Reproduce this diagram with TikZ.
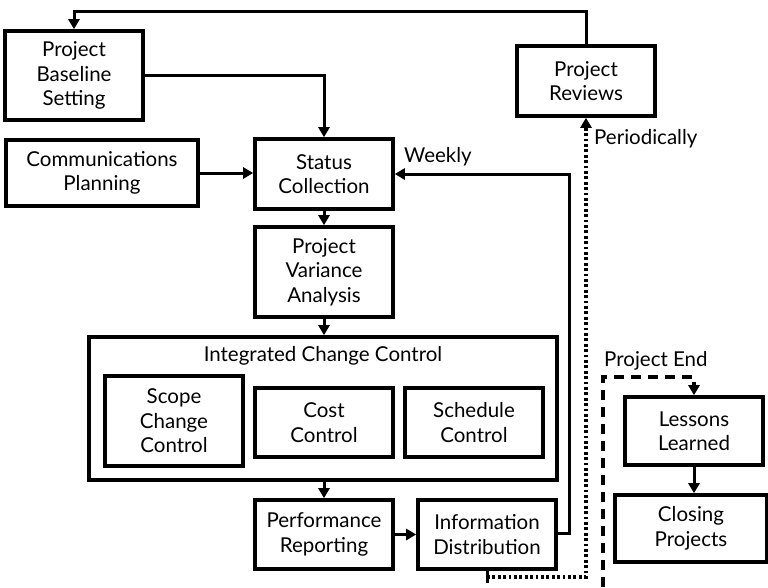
\documentclass[tikz,border=0pt]{standalone}
\usepackage{fontspec}
\setmainfont{Lato}
\usetikzlibrary{arrows.meta}
\begin{document}
\begin{tikzpicture}[x=1pt,y=-1pt,
  box/.style={draw, line width=3.6pt, rectangle, inner sep=0pt, align=center,
    font=\fontsize{20.5}{24.5}\selectfont},
  lbl/.style={inner sep=0pt, font=\fontsize{20.5}{24.5}\selectfont},
  tip/.style={-{Triangle[length=10pt,width=11pt]}},
  conn/.style={line width=3pt, tip},
  plain/.style={line width=3pt},
  dotline/.style={line width=3.2pt, dash pattern=on 2.8pt off 2.6pt},
  dashline/.style={line width=3.2pt, dash pattern=on 10pt off 7pt}]
\useasboundingbox (0,0) rectangle (768,587);

% process boxes
\node[box, minimum width=138pt, minimum height=89pt] (pbs) at (74,75.5) {Project\\Baseline\\Setting};
\node[box, minimum width=192pt, minimum height=66pt] (cp) at (102,173) {Communications\\Planning};
\node[box, minimum width=138pt, minimum height=70pt] (sc) at (324,174) {Status\\Collection};
\node[box, minimum width=138pt, minimum height=70pt] (rev) at (586,81) {Project\\Reviews};
\node[box, minimum width=138pt, minimum height=90pt] (pva) at (324,272) {Project\\Variance\\Analysis};

% integrated change control group
\node[draw, line width=3.6pt, rectangle, minimum width=468pt, minimum height=143pt, inner sep=0pt] (icc) at (323,408.5) {};
\node[lbl] (icct) at (323,356) {Integrated Change Control};
\node[box, minimum width=138pt, minimum height=90pt] (scope) at (174,421) {Scope\\Change\\Control};
\node[box, minimum width=138pt, minimum height=69pt] (cost) at (324,422.5) {Cost\\Control};
\node[box, minimum width=138pt, minimum height=69pt] (sched) at (474,422.5) {Schedule\\Control};

\node[box, minimum width=138pt, minimum height=69pt] (perf) at (324,534.5) {Performance\\Reporting};
\node[box, minimum width=138pt, minimum height=69pt] (info) at (487,534.5) {Information\\Distribution};

\node[box, minimum width=138pt, minimum height=68pt] (ll) at (694,431) {Lessons\\Learned};
\node[box, minimum width=152pt, minimum height=67pt] (close) at (691,528.5) {Closing\\Projects};

% labels
\node[lbl, anchor=west] (wk) at (404,157) {Weekly};
\node[lbl, anchor=west] (per) at (594,139) {Periodically};
\node[lbl, anchor=west] (pend) at (604,361) {Project End};

% helper coordinates
\coordinate (top) at (0,11);
\coordinate (wkx) at (569,0);
\coordinate (bot) at (0,577);
\coordinate (stub) at (487,583);
\coordinate (dash0) at (603,587);
\coordinate (dashy) at (0,377);

% connectors
\draw[conn] (rev.north) -- (rev.north |- top) -- (pbs.north |- top) -- (pbs.north);
\draw[conn] (pbs.east) -- (sc.north |- pbs.east) -- (sc.north);
\draw[conn] (cp.east) -- (sc.west |- cp.east);
\draw[conn] ([yshift=1pt]info.east) -- ([yshift=1pt]wkx |- info.east) -- (wkx |- sc.east) -- (sc.east);
\draw[conn] (sc.south) -- (pva.north);
\draw[conn] (pva.south) -- (icc.north -| pva.south);
\draw[conn] (icc.south -| perf.north) -- (perf.north);
\draw[conn] (perf.east) -- (info.west);
\draw[plain] (info.south) -- (stub);
\draw[dotline, tip] (info.south |- bot) -- (rev.south |- bot) -- (rev.south);
\draw[dashline, tip] (dash0) -- (dash0 |- dashy) -- (ll.north |- dashy) -- (ll.north);
\draw[conn] (ll.south) -- (close.north -| ll.south);
\end{tikzpicture}
\end{document}
